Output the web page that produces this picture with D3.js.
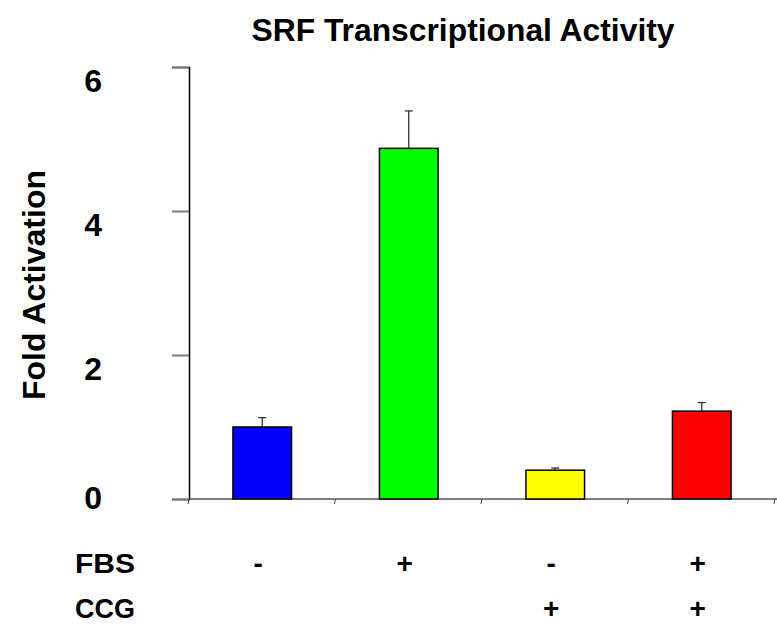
<!DOCTYPE html>
<html>
<head>
<meta charset="utf-8">
<script src="https://cdn.jsdelivr.net/npm/d3@7"></script>
<style>
  html, body { margin: 0; padding: 0; background: #fff; }
  svg text { font-family: "Liberation Sans", Arial, sans-serif; font-weight: bold; fill: #000; }
</style>
</head>
<body>
<svg id="chart" width="777" height="625"></svg>
<script>
// Treatment groups, mean fold activation and error (upper SD)
const categories = ["Control", "FBS", "CCG", "FBS+CCG"];
const foldActivation = [1.0, 4.87, 0.40, 1.22];
const errorUpper = [0.13, 0.52, 0.03, 0.12];
const barColors = ["#0000ff", "#00ff00", "#ffff00", "#ff0000"];
const yTicks = [0, 2, 4, 6];
const fbsSigns = ["-", "+", "-", "+"];
const ccgSigns = ["", "", "+", "+"];

const svg = d3.select("#chart");

const margin = { left: 189, right: 2, top: 67, bottom: 126 };
const width = 777, height = 625;

const x = d3.scaleBand()
  .domain(categories)
  .range([margin.left, width - margin.right])
  .paddingInner(0.6)
  .paddingOuter(0.3);

const y = d3.scaleLinear()
  .domain([0, 6])
  .range([height - margin.bottom, margin.top]);

// Title
svg.append("text")
  .attr("x", 463).attr("y", 41)
  .attr("text-anchor", "middle")
  .attr("font-size", 31)
  .attr("textLength", 423)
  .attr("lengthAdjust", "spacingAndGlyphs")
  .text("SRF Transcriptional Activity");

// Y axis
const yAxis = d3.axisLeft(y).tickValues(yTicks).tickSize(17).tickFormat("");
const yg = svg.append("g")
  .attr("transform", `translate(${margin.left},0)`)
  .call(yAxis);
yg.select(".domain").attr("stroke", "#000").attr("stroke-width", 1.5);
yg.selectAll(".tick line").attr("stroke", "#7a7a7a").attr("stroke-width", 2);

// Y tick labels sit just below their ticks (the zero label sits on the axis)
svg.append("g").selectAll("text")
  .data(yTicks)
  .join("text")
  .attr("x", 102)
  .attr("y", d => d === 0 ? y(d) - 2 : y(d) + 13)
  .attr("dy", "0.36em")
  .attr("text-anchor", "end")
  .attr("font-size", 32)
  .text(d => d);

// Y axis title
svg.append("text")
  .attr("transform", `translate(45,285) rotate(-90)`)
  .attr("text-anchor", "middle")
  .attr("font-size", 32)
  .attr("textLength", 230)
  .attr("lengthAdjust", "spacingAndGlyphs")
  .text("Fold Activation");

// X axis with small boundary ticks
svg.append("line")
  .attr("x1", margin.left).attr("x2", width)
  .attr("y1", y(0)).attr("y2", y(0))
  .attr("stroke", "#555").attr("stroke-width", 1.5);

const edges = d3.range(categories.length + 1).map(i => margin.left + i * x.step());
svg.append("g").selectAll("line")
  .data(edges)
  .join("line")
  .attr("x1", d => d).attr("x2", d => d - 1)
  .attr("y1", y(0)).attr("y2", y(0) + 5)
  .attr("stroke", "#444").attr("stroke-width", 1);

// Error bars (upper only)
const eb = svg.append("g").attr("stroke", "#333").attr("stroke-width", 1.3);
eb.selectAll("line.stem")
  .data(categories)
  .join("line")
  .attr("class", "stem")
  .attr("x1", d => x(d) + x.bandwidth() / 2)
  .attr("x2", d => x(d) + x.bandwidth() / 2)
  .attr("y1", (d, i) => y(foldActivation[i]))
  .attr("y2", (d, i) => y(foldActivation[i] + errorUpper[i]));
eb.selectAll("line.cap")
  .data(categories)
  .join("line")
  .attr("class", "cap")
  .attr("x1", d => x(d) + x.bandwidth() / 2 - 4)
  .attr("x2", d => x(d) + x.bandwidth() / 2 + 4)
  .attr("y1", (d, i) => y(foldActivation[i] + errorUpper[i]))
  .attr("y2", (d, i) => y(foldActivation[i] + errorUpper[i]));

// Bars
svg.append("g").selectAll("rect")
  .data(categories)
  .join("rect")
  .attr("x", d => x(d))
  .attr("width", x.bandwidth())
  .attr("y", (d, i) => y(foldActivation[i]))
  .attr("height", (d, i) => y(0) - y(foldActivation[i]))
  .attr("fill", (d, i) => barColors[i])
  .attr("stroke", "#000")
  .attr("stroke-width", 1.5);

// Treatment table below the axis
const rows = [
  { name: "FBS", signs: fbsSigns, baseline: 573 },
  { name: "CCG", signs: ccgSigns, baseline: 618 }
];
rows.forEach(r => {
  svg.append("text")
    .attr("x", 75).attr("y", r.baseline)
    .attr("font-size", 28)
    .attr("textLength", 60)
    .attr("lengthAdjust", "spacingAndGlyphs")
    .text(r.name);
  svg.append("g").selectAll("text")
    .data(categories)
    .join("text")
    .attr("x", d => x(d) + x.bandwidth() / 2 - 4)
    .attr("y", r.baseline)
    .attr("text-anchor", "middle")
    .attr("font-size", 28)
    .text((d, i) => r.signs[i]);
});
</script>
</body>
</html>
